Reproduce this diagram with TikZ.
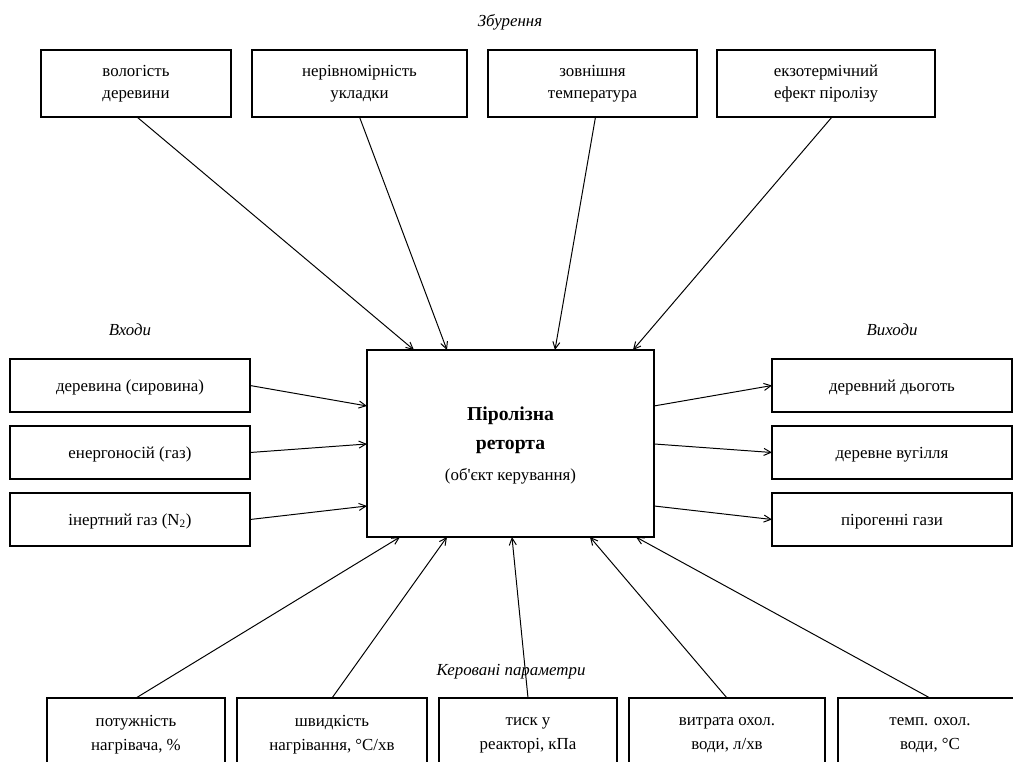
\documentclass[tikz,border=0pt]{standalone}
\usepackage{fontspec}
\setmainfont{Liberation Serif}
\usetikzlibrary{arrows.meta}

\begin{document}
\begin{tikzpicture}[x=0.025cm,y=-0.025cm,every node/.style={outer sep=0pt},
 box/.style={draw,line width=0.9pt,align=center,inner sep=0pt,
 font=\fontsize{12}{15.6}\selectfont},
 topbox/.style={box,minimum height=1.675cm},
 sidebox/.style={box,minimum width=6cm,minimum height=1.325cm,text depth=0pt},
 botbox/.style={box,font=\fontsize{12}{17}\selectfont,anchor=north,minimum height=1.85cm},
 grp/.style={font=\fontsize{12}{14}\selectfont\itshape},
 arr/.style={-{Straight Barb[length=5pt,width=5pt]},line width=0.7pt}]

  \useasboundingbox (0,0) rectangle (1013,762);

  % object
  \node[draw,line width=1.6pt,minimum width=7.175cm,minimum height=4.675cm,align=center,
   text depth=0pt,font=\fontsize{14}{20.5}\selectfont\bfseries] (ret) at (510.5,443.5)
   {Піролізна\\реторта\\[1.5pt]
    \normalfont\fontsize{12}{15}\selectfont (об\textquotesingle єкт керування)};

  % disturbances
  \node[grp] (tz) at (510,22) {Збурення};
  \node[topbox,minimum width=4.75cm] (w1) at (136,83.5) {вологість\\деревини};
  \node[topbox,minimum width=5.375cm] (w2) at (359.5,83.5) {нерівномірність\\укладки};
  \node[topbox,minimum width=5.225cm] (w3) at (592.5,83.5) {зовнішня\\температура};
  \node[topbox,minimum width=5.45cm] (w4) at (826,83.5) {екзотермічний\\ефект піролізу};

  % inputs
  \node[grp] (tin) at (130,330) {Входи};
  \node[sidebox] (in1) at (130,385.5) {деревина (сировина)};
  \node[sidebox] (in2) at (130,452.5) {енергоносій (газ)};
  \node[sidebox] (in3) at (130,519.5) {інертний газ (N\textsubscript{2})};

  % outputs
  \node[grp] (tout) at (892,330) {Виходи};
  \node[sidebox] (out1) at (892,385.5) {деревний дьоготь};
  \node[sidebox] (out2) at (892,452.5) {деревне вугілля};
  \node[sidebox] (out3) at (892,519.5) {пірогенні гази};

  % controlled parameters
  \node[grp] (tc) at (511,672) {Керовані параметри};
  \node[botbox,minimum width=4.45cm] (c1) at (136,698) {потужність\\нагрівача, \%};
  \node[botbox,minimum width=4.75cm] (c2) at (332,698) {швидкість\\нагрівання, °C/хв};
  \node[botbox,minimum width=4.45cm] (c3) at (528,698) {тиск у\\реакторі, кПа};
  \node[botbox,minimum width=4.9cm] (c4) at (727,698) {витрата охол.\\води, л/хв};
  \node[botbox,minimum width=4.6cm] (c5) at (930,698) {темп. охол.\\води, °C};

  \foreach \n/\s/\d in {w1/1/47,w2/0/80,w3/3/188,w4/6/266}
   \draw[arr] ([xshift=\s*0.025cm]\n.south) -- ([xshift=\d*0.025cm]ret.north west);
  \foreach \i/\d in {1/56,2/94,3/156}
  {\draw[arr] (in\i.east) -- ([yshift=-\d*0.025cm]ret.north west);
   \draw[arr] ([yshift=-\d*0.025cm]ret.north east) -- (out\i.west);}
  \foreach \i/\d in {1/33,2/80,3/145,4/223,5/269}
   \draw[arr] (c\i.north) -- ([xshift=\d*0.025cm]ret.south west);

\end{tikzpicture}
\end{document}
